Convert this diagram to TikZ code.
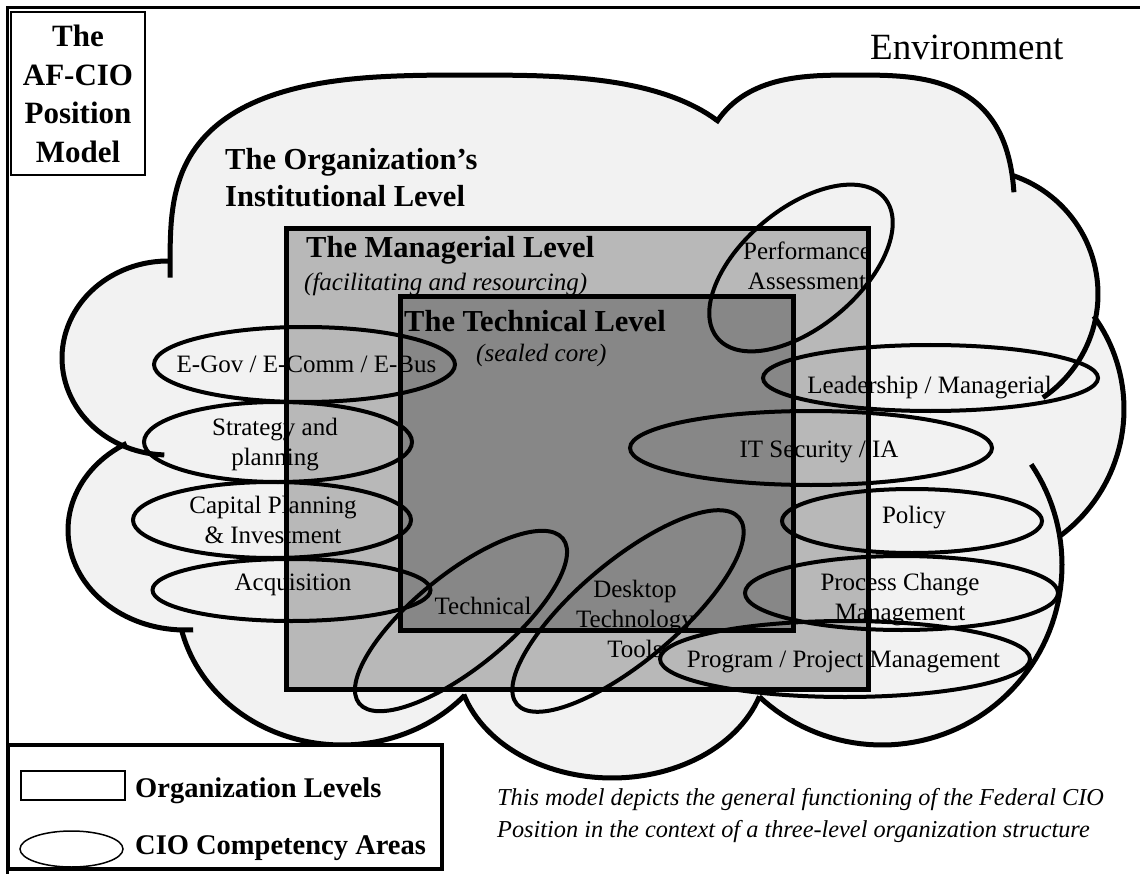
\documentclass[tikz,border=0pt]{standalone}
\usepackage{fontspec}
\setmainfont{Liberation Serif}
\usetikzlibrary{shapes.geometric}
\definecolor{cloudgray}{gray}{0.95}
\definecolor{mgrgray}{gray}{0.72}
\definecolor{techgray}{gray}{0.53}
\newcommand{\stackc}[1]{\begin{tabular}[t]{@{}c@{}}#1\end{tabular}}
\newcommand{\stackl}[1]{\begin{tabular}[t]{@{}l@{}}#1\end{tabular}}
\begin{document}
\begin{tikzpicture}[x=1pt,y=-1pt,
  cloudline/.style={line width=5pt},
  lvl/.style={draw, line width=5pt, rectangle, inner sep=0pt, outer sep=0pt},
  comp/.style={draw, line width=4pt, ellipse, inner sep=0pt, outer sep=0pt},
  lab/.style={font=\fontsize{25}{30}\selectfont, inner sep=0pt, anchor=base},
  head/.style={font=\bfseries\fontsize{30.5}{37}\selectfont, inner sep=0pt, anchor=base west},
  sub/.style={font=\itshape\fontsize{25}{30}\selectfont, inner sep=0pt, anchor=base west},
  legtext/.style={font=\bfseries\fontsize{28.5}{34}\selectfont, inner sep=0pt, anchor=base west},
]
\useasboundingbox (0,0) rectangle (1140,874);
\fill[white] (0,0) rectangle (1140,874);
% outer frame
\draw[line width=3pt] (7,874) -- (7,7.5) -- (1140,7.5);

% ---------- cloud fill (union of bumps) ----------
\fill[cloudgray] (168,358) ellipse [x radius=106pt, y radius=97pt];
\fill[cloudgray] (185,530) ellipse [x radius=117pt, y radius=100pt];
\fill[cloudgray] (342,595) ellipse [x radius=165pt, y radius=150pt];
\fill[cloudgray] (612,660) ellipse [x radius=155pt, y radius=118pt];
\fill[cloudgray] (882,565) circle [radius=180pt];
\fill[cloudgray] (966,409) circle [radius=158pt];
\fill[cloudgray] (973,294) circle [radius=125pt];
\fill[cloudgray] plot[domain=0:360,samples=121,variable=\t]
  ({855+160*cos(\t)/pow(abs(cos(\t))+0.00001,1/3)},{235+160*sin(\t)/pow(abs(sin(\t))+0.00001,1/3)}) -- cycle;
\fill[cloudgray] plot[domain=0:360,samples=121,variable=\t]
  ({470+300*cos(\t)/pow(abs(cos(\t))+0.00001,1/3)},{265+190*sin(\t)/pow(abs(sin(\t))+0.00001,1/3)}) -- cycle;
\fill[cloudgray] (170,270) -- (716,120) -- (1012,176) -- (1096,318) -- (1058,540)
  -- (759,697) -- (464,697) -- (182,630) -- (120,445) -- cycle;

% ---------- cloud outline (bump arcs) ----------
\draw[cloudline] plot[domain=92:272,samples=60,variable=\t] ({168+106*cos(\t)},{358+97*sin(\t)});
\draw[cloudline] plot[domain=86:240,samples=60,variable=\t] ({185+117*cos(\t)},{530+100*sin(\t)});
\draw[cloudline] plot[domain=42:167,samples=60,variable=\t] ({342+165*cos(\t)},{595+150*sin(\t)});
\draw[cloudline] plot[domain=18:163,samples=60,variable=\t] ({612+155*cos(\t)},{660+118*sin(\t)});
\draw[cloudline] plot[domain=-34:133,samples=70,variable=\t] ({882+180*cos(\t)},{565+180*sin(\t)});
\draw[cloudline] plot[domain=-36:54,samples=40,variable=\t] ({966+158*cos(\t)},{409+158*sin(\t)});
\draw[cloudline] plot[domain=-72:56,samples=50,variable=\t] ({973+125*cos(\t)},{294+125*sin(\t)});
\draw[cloudline] plot[domain=216:352,samples=70,variable=\t]
  ({855+160*cos(\t)/pow(abs(cos(\t))+0.00001,1/3)},{235+160*sin(\t)/pow(abs(sin(\t))+0.00001,1/3)});
\draw[cloudline] plot[domain=179:318,samples=80,variable=\t]
  ({470+300*cos(\t)/pow(abs(cos(\t))+0.00001,1/3)},{265+190*sin(\t)/pow(abs(sin(\t))+0.00001,1/3)});

% ---------- organization levels ----------
\node[lvl, fill=mgrgray, minimum width=582pt, minimum height=460pt] (mgr) at (577,459) {};
\node[lvl, fill=techgray, minimum width=393pt, minimum height=333pt] (tech) at (596.5,463.5) {};

% ---------- competency ellipses ----------
\node[comp, minimum width=218pt, minimum height=118pt, rotate=40] (perfE) at (801,268) {};
\node[comp, minimum width=301pt, minimum height=75pt] (egovE) at (304.5,364.5) {};
\node[comp, minimum width=268pt, minimum height=80pt] (stratE) at (278,442) {};
\node[comp, minimum width=278pt, minimum height=76pt] (capE) at (272,520) {};
\node[comp, minimum width=278pt, minimum height=62pt] (acqE) at (291.5,590) {};
\node[comp, minimum width=262pt, minimum height=94pt, rotate=39] (techE) at (461,621) {};
\node[comp, minimum width=290pt, minimum height=100pt, rotate=40] (deskE) at (628,611) {};
\node[comp, minimum width=335pt, minimum height=66pt] (leadE) at (930.5,378) {};
\node[comp, minimum width=362pt, minimum height=74pt] (itE) at (811,448) {};
\node[comp, minimum width=260pt, minimum height=64pt] (polE) at (912,521) {};
\node[comp, minimum width=313pt, minimum height=74pt] (procE) at (901.5,593) {};
\node[comp, minimum width=370pt, minimum height=76pt] (progE) at (845,659) {};

% ---------- level texts ----------
\node[head] (orgT) at (225,170) {\stackl{The Organization's\\Institutional Level}};
\node[head] (mgrT) at (306,258) {The Managerial Level};
\node[sub] (mgrS) at (304,291) {(facilitating and resourcing)};
\node[head] (techT) at (404,332) {The Technical Level};
\node[sub] (techS) at (476,361) {(sealed core)};
\node[font=\fontsize{37}{44}\selectfont, anchor=base west, inner sep=0pt] (env) at (870,60) {Environment};

% ---------- competency labels ----------
\node[lab] (perfT) at (807,260) {\stackc{Performance\\Assessment}};
\node[lab] (egovT) at (306.5,373) {E-Gov / E-Comm / E-Bus};
\node[lab] (stratT) at (275,435) {\stackc{Strategy and\\planning}};
\node[lab] (capT) at (273,513) {\stackc{Capital Planning\\\& Investment}};
\node[lab] (acqT) at (293,590) {Acquisition};
\node[lab] (techL) at (483,614) {Technical};
\node[lab] (deskT) at (635,597) {\stackc{Desktop\\Technology\\Tools}};
\node[lab] (leadT) at (929.5,393) {Leadership / Managerial};
\node[lab] (itT) at (819,457) {IT Security / IA};
\node[lab] (polT) at (914,523) {Policy};
\node[lab] (procT) at (900,590) {\stackc{Process Change\\Management}};
\node[lab] (progT) at (843.5,667) {Program / Project Management};

% ---------- title box ----------
\node[draw, line width=2pt, minimum width=134pt, minimum height=163pt, inner sep=0pt] (titlebox) at (78,93.5) {};
\node[font=\bfseries\fontsize{31}{38.5}\selectfont, anchor=base, inner sep=0pt] (title) at (78,47)
  {\stackc{The\\AF-CIO\\Position\\Model}};

% ---------- legend ----------
\node[draw, line width=4pt, fill=white, minimum width=434pt, minimum height=124pt, inner sep=0pt] (legend) at (225,807) {};
\node[draw, line width=1.5pt, minimum width=104pt, minimum height=29pt, inner sep=0pt] (legrect) at (73,785.5) {};
\node[draw, ellipse, line width=1.5pt, minimum width=103pt, minimum height=36pt, inner sep=0pt] (legell) at (71.5,849) {};
\node[legtext] (legA) at (135,797) {Organization Levels};
\node[legtext] (legB) at (135,854) {CIO Competency Areas};

% ---------- caption ----------
\node[font=\itshape\fontsize{24.3}{32}\selectfont, anchor=base west, inner sep=0pt] (caption) at (497,805)
  {\stackl{This model depicts the general functioning of the Federal CIO\\Position in the context of a three-level organization structure}};
\end{tikzpicture}
\end{document}
